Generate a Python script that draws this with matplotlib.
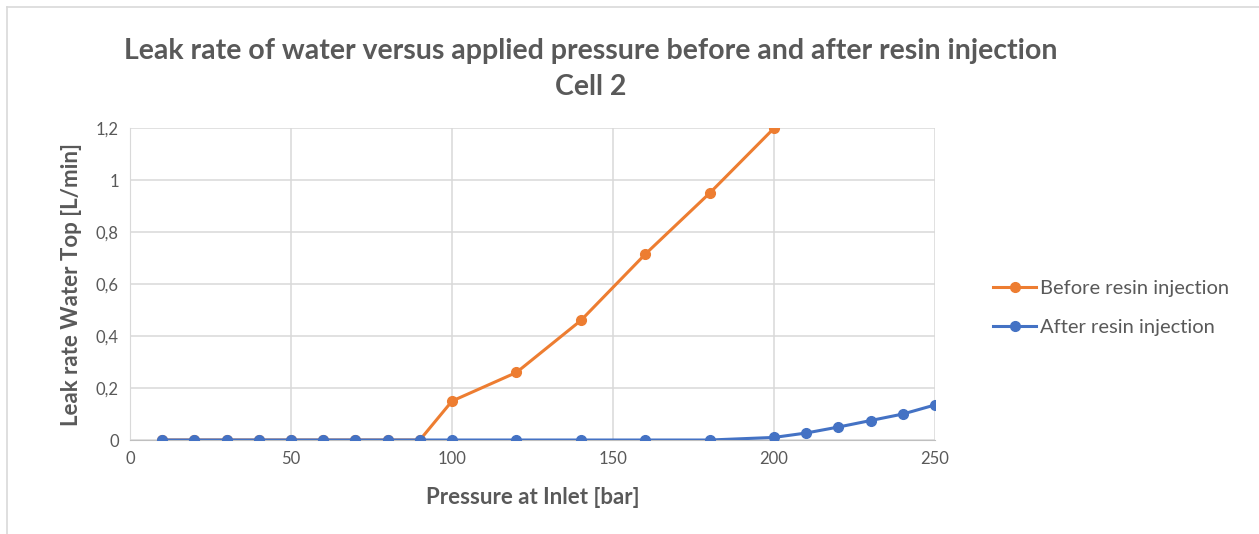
import matplotlib.pyplot as plt
from matplotlib.lines import Line2D
from matplotlib.ticker import FuncFormatter

plt.rcParams['font.family'] = ['Lato', 'DejaVu Sans']

pressure_before = [10, 20, 30, 40, 50, 60, 70, 80, 90, 100, 120, 140, 160, 180, 200]
leak_before = [0, 0, 0, 0, 0, 0, 0, 0, 0, 0.15, 0.26, 0.46, 0.715, 0.95, 1.2]

pressure_after = [10, 20, 30, 40, 50, 60, 70, 80, 90, 100, 120, 140, 160, 180,
                  200, 210, 220, 230, 240, 250]
leak_after = [0, 0, 0, 0, 0, 0, 0, 0, 0, 0, 0, 0, 0, 0,
              0.01, 0.027, 0.05, 0.075, 0.1, 0.135]

x_ticks = [0, 50, 100, 150, 200, 250]
y_ticks = [0, 0.2, 0.4, 0.6, 0.8, 1.0, 1.2]

orange = '#ed7d31'
blue = '#4472c4'
text_grey = '#595959'
grid_grey = '#d9d9d9'

fig = plt.figure(figsize=(12.59, 5.34), dpi=100)
ax = fig.add_axes([0.1033, 0.176, 0.6394, 0.584])

ax.plot(pressure_before, leak_before, color=orange, lw=2.2, marker='o', ms=7,
        label='Before resin injection', zorder=3)
ax.plot(pressure_after, leak_after, color=blue, lw=2.2, marker='o', ms=7,
        label='After resin injection', zorder=4)

ax.set_xlim(0, 250)
ax.set_ylim(0, 1.2)
ax.set_xticks(x_ticks)
ax.set_yticks(y_ticks)
ax.yaxis.set_major_formatter(FuncFormatter(lambda v, p: f'{v:g}'.replace('.', ',')))
ax.grid(color=grid_grey, lw=1.1)
ax.set_axisbelow(True)
for side in ['top', 'right']:
    ax.spines[side].set_visible(False)
ax.spines['left'].set_color(grid_grey)
ax.spines['bottom'].set_color('#bfbfbf')
ax.tick_params(length=0, labelsize=12, colors=text_grey, pad=8)

ax.set_xlabel('Pressure at Inlet [bar]', fontsize=16, fontweight='bold',
              color=text_grey, labelpad=14)
ax.set_ylabel('Leak rate Water Top [L/min]', fontsize=16, fontweight='bold',
              color=text_grey, labelpad=10)

fig.text(0.469, 0.905, 'Leak rate of water versus applied pressure before and after resin injection',
         ha='center', va='center', fontsize=20.5, fontweight='bold', color=text_grey)
fig.text(0.469, 0.838, 'Cell 2', ha='center', va='center', fontsize=20.5,
         fontweight='bold', color=text_grey)

ax.legend(loc='center left', bbox_to_anchor=(1.05, 0.423), frameon=False,
          fontsize=14.5, labelcolor=text_grey, handlelength=2.1, handletextpad=0.2,
          labelspacing=1.1)

# outer chart frame lines
fig.add_artist(Line2D([0.0055, 1], [0.987, 0.987], color=grid_grey, lw=1.2))
fig.add_artist(Line2D([0.0055, 0.0055], [0.0, 0.987], color=grid_grey, lw=1.2))

fig.savefig('out.png', dpi=100)
